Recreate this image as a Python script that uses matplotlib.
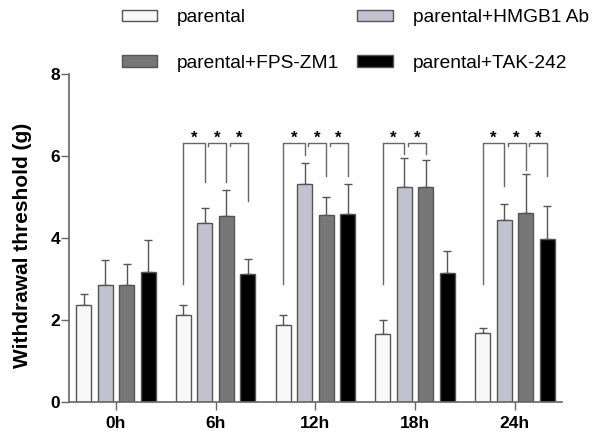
import matplotlib.pyplot as plt
import matplotlib.patches as mpatches
import numpy as np

plt.rcParams['font.family'] = ['Liberation Sans', 'DejaVu Sans']

# data
groups = ['0h', '6h', '12h', '18h', '24h']
series = ['parental', 'parental+HMGB1 Ab', 'parental+FPS-ZM1', 'parental+TAK-242']
parental = [2.36, 2.12, 1.89, 1.65, 1.68]
parental_top = [2.63, 2.37, 2.13, 2.00, 1.81]
hmgb1 = [2.85, 4.36, 5.31, 5.24, 4.44]
hmgb1_top = [3.46, 4.73, 5.84, 5.95, 4.84]
fps = [2.85, 4.53, 4.57, 5.25, 4.62]
fps_top = [3.36, 5.16, 4.99, 5.90, 5.56]
tak = [3.18, 3.13, 4.58, 3.15, 3.98]
tak_top = [3.95, 3.50, 5.32, 3.68, 4.78]

# significance brackets: group index, left bar, right bar, where right leg ends
br_group = [1, 1, 1, 2, 2, 2, 3, 3, 4, 4, 4]
br_left = [0, 1, 2, 0, 1, 2, 0, 1, 0, 1, 2]
br_right = [1, 2, 3, 1, 2, 3, 1, 2, 1, 2, 3]
br_right_end = [5.36, 5.36, 4.90, 6.03, 5.52, 5.52, 6.05, 6.05, 5.28, 5.67, 5.52]
br_top = 6.32
br_left_end = 2.89

colors = ['#f8f8f8', '#c2c1cf', '#777777', '#000000']
edge = '#555555'

means = [parental, hmgb1, fps, tak]
tops = [parental_top, hmgb1_top, fps_top, tak_top]

fig = plt.figure(figsize=(5.98, 4.42), dpi=100)
ax = fig.add_axes([69 / 598, 40 / 442, 492.7 / 598, 328 / 442])

x = np.arange(len(groups))
step = 0.216
width = 0.15
offsets = (np.arange(4) - 1.5) * step

for i in range(4):
    m = np.array(means[i])
    t = np.array(tops[i])
    ax.bar(x + offsets[i], m, width=width, color=colors[i], edgecolor=edge,
           linewidth=1, zorder=2)
    ax.errorbar(x + offsets[i], m, yerr=[np.zeros_like(m), t - m], fmt='none',
                ecolor=edge, elinewidth=1, capsize=3, capthick=1, zorder=1)

for g, l, r, re in zip(br_group, br_left, br_right, br_right_end):
    xl = g + offsets[l] + (0.035 if l > 0 else 0)
    xr = g + offsets[r]
    yl = br_left_end if l == 0 else br_top - 0.08
    ax.plot([xl, xl, xr, xr], [yl, br_top, br_top, re], color='#666666', lw=1,
            zorder=3)
    ax.text((xl + xr) / 2, 6.43, '*', ha='center', va='center', fontsize=12,
            fontweight='bold')

ax.set_xlim(-0.47, 4.47)
ax.set_ylim(0, 8)
ax.set_yticks([0, 2, 4, 6, 8])
ax.set_xticks(x)
ax.set_xticklabels(groups, fontsize=12.5, fontweight='bold')
for lab in ax.get_yticklabels():
    lab.set_fontweight('bold')
    lab.set_fontsize(12.5)
ax.tick_params(axis='both', length=5.5, width=1, color='#666666')
ax.tick_params(axis='x', pad=4.5)
ax.tick_params(axis='y', pad=1)
for s in ['top', 'right']:
    ax.spines[s].set_visible(False)
for s in ['left', 'bottom']:
    ax.spines[s].set_color('#666666')
    ax.spines[s].set_linewidth(1.2)

ax.set_ylabel('Withdrawal threshold (g)', fontsize=15, fontweight='bold')
ax.yaxis.set_label_coords(-0.076, 0.476)

handles = [mpatches.Patch(facecolor=colors[i], edgecolor=edge, linewidth=1)
           for i in [0, 2, 1, 3]]
labels = [series[i] for i in [0, 2, 1, 3]]
fig.legend(handles, labels, ncol=2, loc='upper left',
           bbox_to_anchor=(121.7 / 598, 1 - 9 / 442), frameon=False,
           fontsize=13.8, borderpad=0, borderaxespad=0,
           handlelength=1.85, handleheight=0.52, handletextpad=1.04,
           columnspacing=0.94, labelspacing=1.5)

fig.savefig('out.png', dpi=100)
